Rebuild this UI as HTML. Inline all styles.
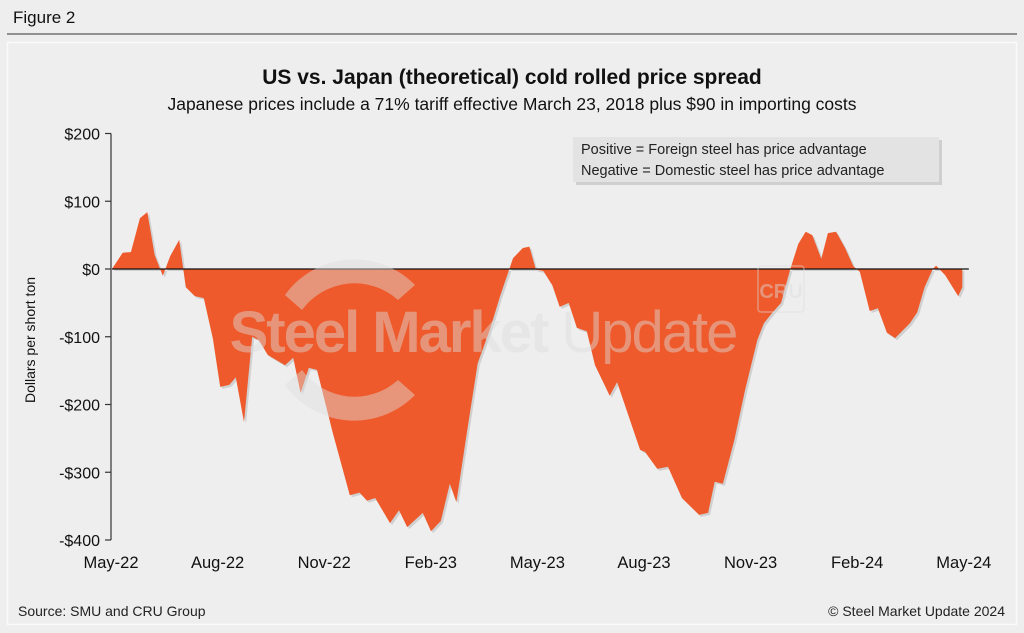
<!DOCTYPE html>
<html><head><meta charset="utf-8"><style>
body{margin:0;width:1024px;height:633px;background:#eeeeee;font-family:"Liberation Sans",Arial,sans-serif;overflow:hidden}
svg{display:block}
</style></head><body>
<svg id="chart" width="1024" height="633">
<rect x="0" y="0" width="1024" height="633" fill="#eeeeee"/>
<text x="13" y="23" font-size="17" fill="#111">Figure 2</text>
<line x1="7" y1="34" x2="1017" y2="34" stroke="#333" stroke-width="1"/>
<rect x="7.5" y="42.5" width="1009" height="582" fill="none" stroke="#fafafa" stroke-width="1.5"/>
<text x="512" y="84" text-anchor="middle" font-size="21" font-weight="bold" fill="#111">US vs. Japan (theoretical) cold rolled price spread</text>
<text x="512" y="110" text-anchor="middle" font-size="17.5" fill="#111">Japanese prices include a 71% tariff effective March 23, 2018 plus $90 in importing costs</text>
<g id="plot"></g>
<g opacity="0.45">
<path d="M285,295 A85,85 0 0 1 415,285 L398,300 A65,65 0 0 0 302,310 Z" fill="#ddd"/>
<path d="M285,385 A85,85 0 0 0 415,395 L398,380 A65,65 0 0 1 302,370 Z" fill="#ddd"/>
<text x="483" y="352" text-anchor="middle" font-size="58" font-weight="bold" fill="#ddd" letter-spacing="-2">Steel Market <tspan font-weight="normal">Update</tspan></text>
<rect x="758" y="266" width="46" height="46" rx="3" fill="none" stroke="#ddd" stroke-width="1.5"/>
<text x="781" y="298" text-anchor="middle" font-size="20" font-weight="bold" fill="#ddd">CRU</text>
</g>
<g>
<rect x="576" y="140" width="366" height="45" fill="#bbb" opacity="0.6"/>
<rect x="573" y="137" width="366" height="45" fill="#e3e3e3"/>
<text x="581" y="154" font-size="14.5" fill="#222">Positive = Foreign steel has price advantage</text>
<text x="581" y="175" font-size="14.5" fill="#222">Negative = Domestic steel has price advantage</text>
</g>
<text transform="translate(35,340) rotate(-90)" text-anchor="middle" font-size="14" fill="#111">Dollars per short ton</text>
<text x="18" y="616" font-size="14" fill="#222">Source: SMU and CRU Group</text>
<text x="1005" y="616" text-anchor="end" font-size="14" fill="#222">© Steel Market Update 2024</text>
</svg>
<script>
const weeks=[0,1.3,2.3,3.4,4.3,5.2,6.2,7.1,8.2,9.0,10.1,11.2,12.3,13.2,14.3,15.1,16.1,17.1,17.9,19.0,21.1,22.1,23.0,24.0,25.0,26.9,29.0,30.2,31.1,32.1,33.9,35.0,36.0,37.9,38.9,40.1,41.2,42.0,43.2,44.6,46.1,47.3,48.9,50.1,50.9,51.7,52.6,53.7,54.6,55.7,56.7,57.9,58.9,60.7,61.6,64.4,65.0,66.5,67.8,69.5,71.6,72.7,73.5,74.5,75.9,77.2,78.7,79.5,80.5,81.6,82.7,83.7,84.6,85.4,86.5,87.3,88.3,89.4,90.4,91.2,92.4,93.4,94.5,95.5,97.3,98.2,99.1,100.1,100.5,101.6,103.2,103.7];
const spread=[0,24,25,75,84,21,-10,19,43,-27,-40,-43,-103,-174,-171,-160,-226,-100,-105,-127,-142,-131,-183,-146,-149,-241,-334,-330,-342,-338,-375,-356,-381,-360,-387,-372,-317,-344,-248,-139,-89,-41,16,31,33,-1,-3,-24,-56,-50,-87,-92,-142,-187,-167,-267,-270,-295,-292,-338,-363,-360,-314,-317,-252,-179,-105,-80,-65,-50,-1,37,55,50,15,53,55,31,4,-4,-62,-58,-94,-102,-80,-64,-27,0,5,-9,-40,-27];
const yTicks=[200,100,0,-100,-200,-300,-400];
const yTickLabels=["$200","$100","$0","-$100","-$200","-$300","-$400"];
const xTickWeeks=[0,13,26,39,52,65,78,91,104];
const xTickLabels=["May-22","Aug-22","Nov-22","Feb-23","May-23","Aug-23","Nov-23","Feb-24","May-24"];
const NS="http://www.w3.org/2000/svg";
const x=w=>112+w*8.2;
const y=v=>269-v*0.6775;
const g=document.getElementById('plot');
function mk(t,a){const e=document.createElementNS(NS,t);for(const k in a)e.setAttribute(k,a[k]);g.appendChild(e);return e;}
let d='M'+x(weeks[0])+','+y(0);
weeks.forEach((w,i)=>{d+=' L'+x(w).toFixed(1)+','+y(spread[i]).toFixed(1);});
d+=' L'+x(weeks[weeks.length-1])+','+y(0)+' Z';
const sh=mk('path',{d:d,fill:'#999',opacity:'0.35',transform:'translate(2,2)'});


const area=mk('path',{d:d,fill:'#ee5a2b'});


const zl=mk('line',{x1:x(0),x2:x(104)+4,y1:y(0),y2:y(0),stroke:'#111','stroke-width':1.3});


const ax=mk('line',{x1:111,x2:111,y1:y(200),y2:y(-400),stroke:'#333','stroke-width':1.2});


yTicks.forEach((v,i)=>{
 const tk=mk('line',{x1:105,x2:111,y1:y(v),y2:y(v),stroke:'#333','stroke-width':1.2});
 
 
 const t=mk('text',{x:100,y:y(v)+6,'text-anchor':'end','font-size':16,fill:'#111'});
 t.textContent=yTickLabels[i];
 
 
});
xTickWeeks.forEach((w,i)=>{
 const t=mk('text',{x:x(w)-1,y:568,'text-anchor':'middle','font-size':16.5,fill:'#111'});
 t.textContent=xTickLabels[i];
 
 
});
</script>
</body></html>
